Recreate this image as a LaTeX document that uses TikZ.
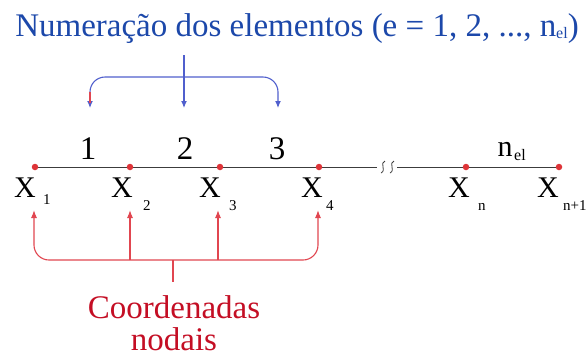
\documentclass[tikz,border=0pt]{standalone}
\usepackage{fontspec}
\setmainfont{Liberation Serif}
\usepackage{xcolor}
\usepackage{tikz}
\usetikzlibrary{positioning,arrows.meta,backgrounds}

\definecolor{azultexto}{RGB}{28,72,170}
\definecolor{azulseta}{RGB}{80,95,205}
\definecolor{vermtexto}{RGB}{196,14,36}
\definecolor{vermseta}{RGB}{225,70,80}
\definecolor{ponto}{RGB}{222,52,56}
\definecolor{barra}{RGB}{60,60,60}

\begin{document}
\begin{tikzpicture}[
  x=1pt, y=-1pt,
  no/.style={circle, fill=ponto, inner sep=0pt, minimum size=6.5pt},
  coordx/.style={font=\fontsize{30}{30}\selectfont, inner sep=0pt, anchor=base},
  indice/.style={font=\fontsize{15}{15}\selectfont, inner sep=0pt, anchor=base west},
  elem/.style={font=\fontsize{33}{33}\selectfont, inner sep=0pt, anchor=base},
  setaazul/.style={-{Latex[length=7pt, width=6pt]}, azulseta, line width=1.1pt},
  setaverm/.style={-{Latex[length=8pt, width=6pt]}, vermseta, line width=1.1pt},
  quebra/.style={barra, line width=0.8pt},
]
  \useasboundingbox (0,0) rectangle (587,360);

  % titulo
  \node[font=\fontsize{33}{33}\selectfont, text=azultexto, inner sep=0pt, anchor=base] (titulo) at (297,36)
    {Numeração dos elementos (e = 1, 2, ..., n\raisebox{-2pt}{\fontsize{16}{16}\selectfont el})};

  % nos da barra
  \node[no] (n1) at (35,167) {};
  \node[no] (n2) at (130,167) {};
  \node[no] (n3) at (220,167) {};
  \node[no] (n4) at (319,167) {};
  \node[no] (nn) at (466,167) {};
  \node[no] (nn1) at (559,167) {};
  \coordinate (q1) at (377,167);
  \coordinate (q2) at (397,167);

  \begin{scope}[on background layer]
    \draw[barra, line width=1pt] (n1.center) -- (q1);
    \draw[barra, line width=1pt] (q2) -- (nn1.center);
  \end{scope}

  % simbolo de quebra
  \draw[quebra] (385,161) .. controls (379,163) and (387,170) .. (381,173);
  \draw[quebra] (394,161) .. controls (388,163) and (396,170) .. (390,173);

  % numeros dos elementos
  \node[elem] (e1) at (88,159) {1};
  \node[elem] (e2) at (185,159) {2};
  \node[elem] (e3) at (277,159) {3};
  \node[font=\fontsize{30}{30}\selectfont, inner sep=0pt, anchor=base] (enel) at (505,156) {n};
  \node[font=\fontsize{16}{16}\selectfont, inner sep=0pt, anchor=base west] (enelsub) at (514,160) {el};

  % coordenadas nodais
  \node[coordx] (x1) at (25,197) {X};
  \node[indice] (s1) at (43,204) {1};
  \node[coordx] (x2) at (122,197) {X};
  \node[indice] (s2) at (143,210) {2};
  \node[coordx] (x3) at (210,197) {X};
  \node[indice] (s3) at (229,210) {3};
  \node[coordx] (x4) at (312,197) {X};
  \node[indice] (s4) at (326,210) {4};
  \node[coordx] (xn) at (459,197) {X};
  \node[indice] (sn) at (478,210) {n};
  \node[coordx] (xn1) at (548,197) {X};
  \node[indice] (sn1) at (563,210) {n+1};

  % chave azul
  \coordinate (a1) at (90,108);
  \coordinate (a2) at (184,108);
  \coordinate (a3) at (278,108);
  \coordinate (atopo) at (184,55);
  \draw[setaazul, {Latex[length=7pt, width=6pt]}-{Latex[length=7pt, width=6pt]}, rounded corners=15pt]
    (a1) -- (90,77) -- (278,77) -- (a3);
  \draw[vermseta, line width=1.1pt] (90,92) -- (90,103);
  \draw[setaazul] (atopo) -- (a2);

  % chave vermelha
  \coordinate (b1) at (34,210);
  \coordinate (b2) at (130,210);
  \coordinate (b3) at (218,210);
  \coordinate (b4) at (318,210);
  \coordinate (bbase) at (173,282);
  \draw[setaverm, {Latex[length=8pt, width=6pt]}-{Latex[length=8pt, width=6pt]}, rounded corners=15pt]
    (b1) -- (34,260) -- (318,260) -- (b4);
  \draw[setaverm] (130,260) -- (b2);
  \draw[setaverm] (218,260) -- (b3);
  \draw[vermseta, line width=1.1pt] (173,260) -- (bbase);

  \node[font=\fontsize{33}{32}\selectfont, text=vermtexto, inner sep=0pt, anchor=base, align=center] (legenda) at (174,350)
    {Coordenadas\\nodais};
\end{tikzpicture}
\end{document}
